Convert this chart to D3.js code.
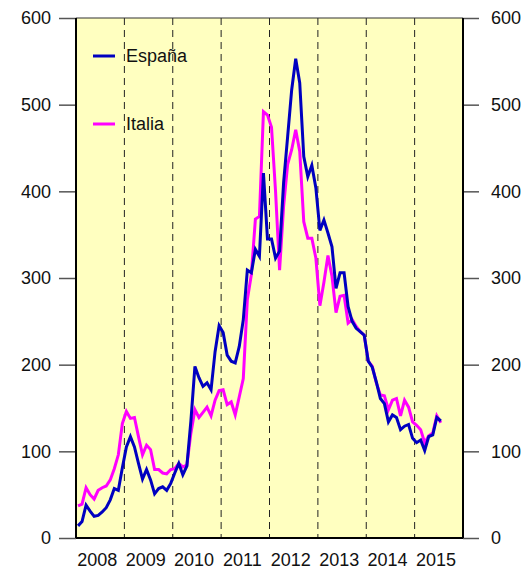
<!DOCTYPE html>
<html>
<head>
<meta charset="utf-8">
<script src="https://cdn.jsdelivr.net/npm/d3@7"></script>
<style>
  body { margin: 0; background: #fff; }
  svg text { font-family: "Liberation Sans", Arial, sans-serif; fill: #111; }
</style>
</head>
<body>
<div id="chart"></div>
<script>
// ---------- data (monthly, Jan 2008 - Jul 2015) ----------
var startYear = 2008;
var years = [2008, 2009, 2010, 2011, 2012, 2013, 2014, 2015];
var yTicks = [0, 100, 200, 300, 400, 500, 600];
var seriesNames = ["España", "Italia"];
var seriesColors = ["#0000c0", "#ff00ff"];

var espana = [14, 19, 38, 31, 25, 26, 30, 35, 44, 57, 55, 81,
              105, 117, 105, 86, 68, 79, 67, 51, 57, 59, 55, 63,
              75, 86, 73, 83, 135, 198, 185, 175, 179, 171, 215, 245,
              237, 211, 204, 202, 221, 252, 309, 306, 333, 325, 421, 345,
              345, 323, 331, 410, 463, 517, 553, 525, 440, 417, 430, 404,
              355, 367, 352, 336, 288, 306, 306, 267, 250, 242, 238, 234,
              204, 197, 180, 161, 155, 134, 142, 139, 125, 129, 131, 115,
              110, 113, 101, 117, 119, 139, 135];

var italia = [37, 39, 58, 50, 45, 55, 58, 60, 67, 80, 96, 132,
              146, 138, 139, 117, 96, 107, 102, 79, 79, 75, 74, 79,
              80, 86, 82, 84, 121, 148, 139, 145, 151, 141, 159, 170,
              171, 154, 157, 142, 163, 184, 275, 304, 368, 371, 492, 488,
              474, 400, 309, 383, 431, 448, 471, 446, 365, 346, 346, 323,
              268, 295, 326, 302, 260, 279, 280, 248, 252, 244, 238, 234,
              204, 198, 179, 165, 164, 148, 159, 161, 141, 159, 151, 134,
              130, 125, 110, 118, 121, 141, 133];

// ---------- layout ----------
var width = 526, height = 571;
var plotLeft = 76, plotRight = 463, plotTop = 18, plotBottom = 538;
var fontSize = "18px";

var svg = d3.select("#chart").append("svg")
    .attr("width", width)
    .attr("height", height);

var x_scale = d3.scaleLinear().domain([2008, 2016]).range([plotLeft, plotRight]);
var y_scale = d3.scaleLinear().domain([0, 600]).range([plotBottom, plotTop]);

// month i sits in the middle of its month
function monthX(i) { return x_scale(startYear + (i + 0.5) / 12); }

// background
svg.append("rect")
    .attr("x", plotLeft).attr("y", plotTop)
    .attr("width", plotRight - plotLeft).attr("height", plotBottom - plotTop)
    .style("fill", "#ffffc0");

// dashed year lines
svg.selectAll(".year_line").data(years.slice(1)).enter().append("line")
    .attr("class", "year_line")
    .attr("x1", function(d) { return x_scale(d); })
    .attr("x2", function(d) { return x_scale(d); })
    .attr("y1", plotTop).attr("y2", plotBottom)
    .attr("stroke", "#222")
    .attr("stroke-width", 1)
    .attr("stroke-dasharray", "7,5");

// ---------- axes ----------
var yAxisL = d3.axisLeft(y_scale).tickValues(yTicks).tickSize(17).tickPadding(8);
var yAxisR = d3.axisRight(y_scale).tickValues(yTicks).tickSize(16).tickPadding(12);

var gL = svg.append("g").attr("transform", "translate(" + plotLeft + ",0)").call(yAxisL);
var gR = svg.append("g").attr("transform", "translate(" + plotRight + ",0)").call(yAxisR);

[gL, gR].forEach(function(g) {
  g.select(".domain").remove();
  g.selectAll(".tick line").attr("stroke", "#555").attr("stroke-width", 1.5);
  g.selectAll(".tick text").style("font-size", fontSize).attr("fill", "#111");
});

// year labels
svg.selectAll(".year_label").data(years).enter().append("text")
    .attr("class", "year_label")
    .attr("x", function(d) { return x_scale(d + 0.44); })
    .attr("y", 566)
    .attr("text-anchor", "middle")
    .style("font-size", fontSize)
    .text(function(d) { return d; });

// ---------- lines ----------
var line = d3.line()
    .x(function(d, i) { return monthX(i); })
    .y(function(d) { return y_scale(d); });

svg.append("defs").append("clipPath").attr("id", "plotclip")
  .append("rect").attr("x", plotLeft).attr("y", plotTop)
  .attr("width", plotRight - plotLeft).attr("height", plotBottom - plotTop);

var plot = svg.append("g").attr("clip-path", "url(#plotclip)");

plot.append("path").datum(italia)
    .attr("d", line)
    .attr("fill", "none")
    .attr("stroke", seriesColors[1])
    .attr("stroke-width", 3);

plot.append("path").datum(espana)
    .attr("d", line)
    .attr("fill", "none")
    .attr("stroke", seriesColors[0])
    .attr("stroke-width", 3);

// frame
svg.append("line").attr("x1", plotLeft).attr("x2", plotRight).attr("y1", plotTop).attr("y2", plotTop)
    .attr("stroke", "#333").attr("stroke-width", 1.2);
svg.append("line").attr("x1", plotLeft).attr("x2", plotRight).attr("y1", plotBottom).attr("y2", plotBottom)
    .attr("stroke", "#000").attr("stroke-width", 2);
svg.append("line").attr("x1", plotLeft).attr("x2", plotLeft).attr("y1", plotTop).attr("y2", plotBottom)
    .attr("stroke", "#000").attr("stroke-width", 2);
svg.append("line").attr("x1", plotRight).attr("x2", plotRight).attr("y1", plotTop).attr("y2", plotBottom)
    .attr("stroke", "#000").attr("stroke-width", 2);

// ---------- legend ----------
var legend = svg.selectAll(".legend").data(seriesNames).enter().append("g")
    .attr("class", "legend")
    .attr("transform", function(d, i) { return "translate(93," + (56 + i * 68) + ")"; });

legend.append("line")
    .attr("x1", 0).attr("x2", 22).attr("y1", 0).attr("y2", 0)
    .attr("stroke", function(d, i) { return seriesColors[i]; })
    .attr("stroke-width", 3);

legend.append("text")
    .attr("x", 33).attr("y", 0).attr("dy", "0.35em")
    .style("font-size", fontSize)
    .text(function(d) { return d; });
</script>
</body>
</html>
